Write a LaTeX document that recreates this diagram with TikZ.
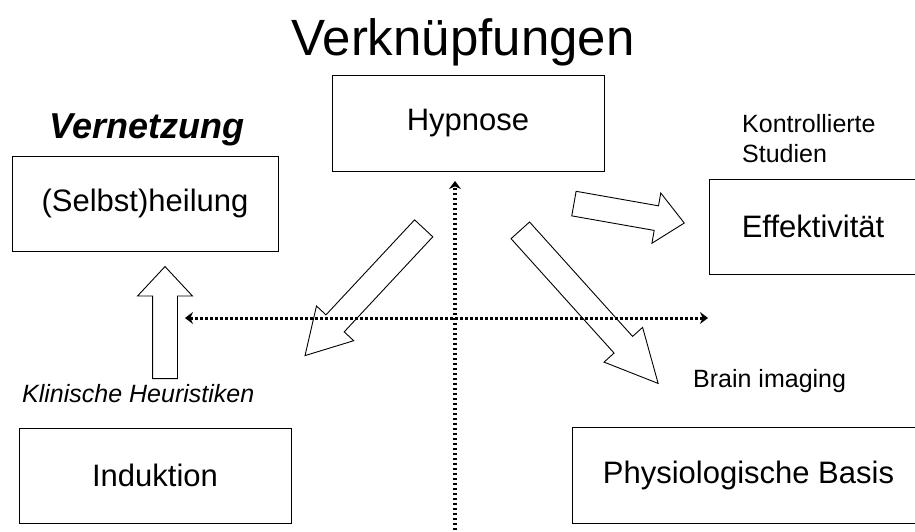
\documentclass[tikz,border=0pt]{standalone}
\usepackage{fontspec}
\setmainfont{Liberation Sans}
\usetikzlibrary{arrows.meta, shapes.arrows}
\tikzset{box/.style = {draw, line width=.9pt, inner sep=0pt,
                       font=\fontsize{31}{37}\selectfont},
         fatarrow/.style = {draw, line width=.9pt, single arrow, anchor=tail,
                            inner xsep=0pt, inner ysep=12pt},
         crossline/.style = {line width=3pt, dash pattern=on 3pt off 2pt},
         crosshead/.tip = {Stealth[length=8pt, width=12pt]},
         note/.style = {anchor=base west, inner sep=0pt,
                        font=\fontsize{25}{30}\selectfont}}

\begin{document}
\begin{tikzpicture}[x=1pt, y=-1pt]
    \useasboundingbox (0,0) rectangle (915,531);

    \node[font=\fontsize{51}{60}\selectfont, anchor=base] (title)
        at (463,55) {Verknüpfungen};
    \node[font=\fontsize{36}{42}\selectfont\bfseries\itshape, anchor=base]
        (vernetzung) at (147,138) {Vernetzung};

    \node[box, minimum width=272pt, minimum height=96pt] (hypnose)
        at (468,123) {Hypnose};
    \node[box, minimum width=266pt, minimum height=95pt] (heilung)
        at (145,203.5) {(Selbst)heilung};
    \node[box, minimum width=208pt, minimum height=95pt] (effekt)
        at (813,226.5) {Effektivität};
    \node[box, minimum width=272pt, minimum height=95pt] (induktion)
        at (155,475.5) {Induktion};
    \node[box, minimum width=353pt, minimum height=96pt] (basis)
        at (748.5,475) {Physiologische Basis};

    \node[note, align=left] (studien) at (742,162) {Kontrollierte\\Studien};
    \node[note, font=\fontsize{25}{30}\selectfont\itshape] (heuristik)
        at (22,402) {Klinische Heuristiken};
    \node[note] (imaging) at (693,387) {Brain imaging};

    % the cross
    \coordinate (hleft) at (185,318);
    \coordinate (hright) at (708,318);
    \coordinate (vtop) at (455,181);
    \coordinate (vbottom) at (455,540);
    \draw[crossline, crosshead-crosshead] (hleft) -- (hright);
    \draw[crossline, line width=4pt, dash pattern=on 2.5pt off 2.5pt,
          -crosshead] (vbottom) -- (vtop);

    % block arrows: name/tail/angle/length/head width/head extend/tip angle
    \foreach \Name/\Pos/\Angle/\Len/\Head/\Ext/\Tip in {%
        toinduktion/{(424,228)}/227/174/50/13/60,
        tobasis/{(520,230)}/-48/206/51/13.5/53,
        toeffekt/{(573.5,203.5)}/-10/112/51/13/84,
        toheilung/{(165,379)}/90/112/54/15/86%
        }
        \node[fatarrow, rotate=\Angle,
              minimum height=\Len pt, minimum width=\Head pt,
              single arrow head extend=\Ext pt,
              single arrow tip angle=\Tip] (\Name) at \Pos {};
\end{tikzpicture}
\end{document}
